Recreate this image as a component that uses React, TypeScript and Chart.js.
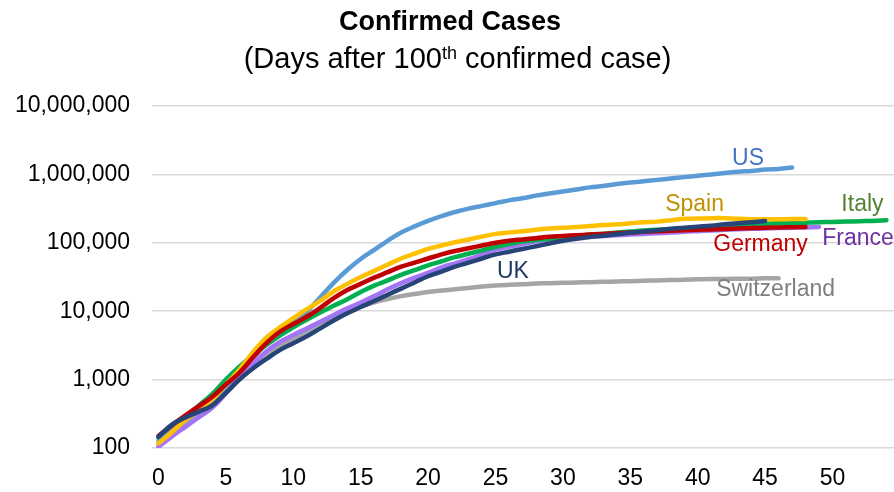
import React, { useEffect, useRef } from 'react';
import { Chart, registerables } from 'chart.js';

Chart.register(...registerables);

// ---- data (days after 100th confirmed case) ----
const days = [
  0, 1, 2, 3, 4, 5, 6, 7, 8, 9, 10, 11, 12, 13, 14, 15, 16, 17, 18, 19, 20, 21, 22, 23, 24, 25, 26, 27,
  28, 29, 30, 31, 32, 33, 34, 35, 36, 37, 38, 39, 40, 41, 42, 43, 44, 45, 46, 47, 48, 49, 50, 51, 52, 53, 54,
];

const usCases = [
  125, 190, 270, 370, 500, 800, 1300, 2100, 3400, 5000, 7100, 9800, 16000, 26000, 40000, 58000, 79000,
  107000, 141000, 174000, 209000, 245000, 282000, 316000, 347000, 380000, 417000, 447000, 490000, 525000,
  562000, 603000, 646000, 676000, 724000, 759000, 794000, 832000, 871000, 912000, 955000, 1000000, 1047000,
  1096000, 1122000, 1175000, 1202000, 1259000,
];

const spainCases = [
  117, 170, 260, 370, 520, 850, 1400, 2500, 4100, 5800, 7900, 10700, 14100, 19500, 25100, 31600, 38900,
  47900, 58900, 69200, 81300, 91200, 102000, 112000, 123000, 135000, 141000, 148000, 155000, 162000, 166000,
  170000, 176000, 182000, 186000, 193000, 200000, 204000, 214000, 224000, 226000, 229000, 229000, 224000,
  221000, 221000, 221000, 222000, 222000,
];

const italyCases = [
  138, 200, 290, 420, 620, 1000, 1550, 2250, 3200, 4400, 5800, 7500, 9600, 12000, 15000, 19100, 23700,
  28200, 33900, 39800, 46800, 53700, 61700, 69200, 77600, 87100, 96000, 104000, 110000, 115000, 120000,
  126000, 132000, 136000, 141000, 146000, 151000, 155000, 158000, 162000, 166000, 170000, 174000, 178000,
  183000, 189000, 193000, 195000, 197000, 200000, 202000, 204000, 207000, 209000, 214000,
];

const germanyCases = [
  150, 215, 300, 410, 560, 850, 1260, 2100, 3400, 5000, 6500, 8300, 11200, 15500, 20400, 25100, 30900,
  37200, 44700, 51300, 58900, 67600, 75900, 83200, 91200, 100000, 107000, 112000, 117000, 123000, 126000,
  129000, 132000, 135000, 138000, 141000, 145000, 148000, 150000, 152000, 155000, 157000, 159000, 162000,
  164000, 166000, 168000, 169000, 170000,
];

const franceCases = [
  104, 148, 204, 282, 390, 630, 1080, 1700, 2570, 3550, 4500, 5600, 7000, 8800, 11000, 13400, 16600,
  20900, 25700, 30900, 36300, 43700, 50100, 57500, 67600, 79400, 87100, 95500, 105000, 112000, 117000,
  120000, 123000, 126000, 129000, 132000, 135000, 138000, 141000, 145000, 148000, 151000, 155000, 158000,
  160000, 162000, 164000, 166000, 168000, 170000,
];

const ukCases = [
  146, 220, 280, 340, 420, 640, 1000, 1450, 2000, 2700, 3400, 4300, 5600, 7300, 9300, 11500, 14100, 17400,
  21400, 26300, 32400, 38000, 44700, 51300, 58900, 67600, 74100, 81300, 89100, 97700, 107000, 115000,
  122000, 127000, 133000, 140000, 146000, 153000, 160000, 166000, 172000, 178000, 186000, 193000, 200000,
  209000,
];

const switzerlandCases = [
  112, 158, 224, 316, 430, 640, 1000, 1480, 2140, 3000, 3980, 5150, 6610, 8320, 10000, 11700, 13500, 15100,
  16600, 17800, 19100, 20000, 20900, 21900, 22900, 23700, 24300, 24800, 25400, 25700, 26000, 26300, 26600,
  26900, 27200, 27500, 27900, 28200, 28500, 28800, 29200, 29500, 29500, 29900, 29900, 30200, 30200,
];

const xTickValues = [0, 5, 10, 15, 20, 25, 30, 35, 40, 45, 50];
const yTickValues = [100, 1000, 10000, 100000, 1000000, 10000000];

const titleText = 'Confirmed Cases';
const subtitleBefore = '(Days after 100';
const subtitleSup = 'th';
const subtitleAfter = ' confirmed case)';

// ---- series styling (first is drawn on top) ----
const series = [
  { name: 'UK', data: ukCases, line: '#264478', text: '#1F3864', at: 26, dx: 4, dy: 26 },
  { name: 'Germany', data: germanyCases, line: '#C00000', text: '#C00000', at: -1, dx: -45, dy: 24 },
  { name: 'Spain', data: spainCases, line: '#FFC000', text: '#BF9000', at: -1, dx: -111, dy: -8 },
  { name: 'US', data: usCases, line: '#5B9BD5', text: '#4472C4', at: -1, dx: -44, dy: -3 },
  { name: 'Italy', data: italyCases, line: '#00B050', text: '#548235', at: -1, dx: -24, dy: -9 },
  { name: 'France', data: franceCases, line: '#A374F5', text: '#7030A0', at: -1, dx: 39, dy: 18 },
  { name: 'Switzerland', data: switzerlandCases, line: '#A5A5A5', text: '#7F7F7F', at: -1, dx: -3, dy: 18 },
];

const FONT = '"Liberation Sans", Arial, Helvetica, sans-serif';

const labelPlugin = {
  id: 'seriesLabels',
  afterDatasetsDraw(chart: any) {
    const ctx = chart.ctx as CanvasRenderingContext2D;
    const xs = chart.scales.x;
    const ys = chart.scales.y;
    ctx.save();
    ctx.font = `23px ${FONT}`;
    ctx.textAlign = 'center';
    ctx.textBaseline = 'alphabetic';
    series.forEach((s) => {
      const idx = s.at < 0 ? s.data.length - 1 : s.at;
      const px = xs.getPixelForValue(days[idx]);
      const py = ys.getPixelForValue(s.data[idx]);
      ctx.fillStyle = s.text;
      ctx.fillText(s.name, px + s.dx, py + s.dy);
    });
    ctx.restore();
  },
  afterDraw(chart: any) {
    const ctx = chart.ctx as CanvasRenderingContext2D;
    ctx.save();
    ctx.fillStyle = '#000';
    ctx.textBaseline = 'alphabetic';
    ctx.textAlign = 'center';
    ctx.font = `bold 27px ${FONT}`;
    ctx.fillText(titleText, 450, 30);

    ctx.textAlign = 'left';
    const mainFont = `29px ${FONT}`;
    const supFont = `18px ${FONT}`;
    ctx.font = mainFont;
    const w1 = ctx.measureText(subtitleBefore).width;
    const w3 = ctx.measureText(subtitleAfter).width;
    ctx.font = supFont;
    const w2 = ctx.measureText(subtitleSup).width;
    const total = w1 + w2 + w3;
    let x = 457.5 - total / 2;
    ctx.font = mainFont;
    ctx.fillText(subtitleBefore, x, 68);
    x += w1;
    ctx.font = supFont;
    ctx.fillText(subtitleSup, x, 59);
    x += w2;
    ctx.font = mainFont;
    ctx.fillText(subtitleAfter, x, 68);
    ctx.restore();
  },
};

export default function App() {
  const canvasRef = useRef<HTMLCanvasElement | null>(null);

  useEffect(() => {
    if (!canvasRef.current) return;
    const chart = new Chart(canvasRef.current, {
      type: 'line',
      data: {
        datasets: series.map((s) => ({
          label: s.name,
          data: s.data.map((v, i) => ({ x: days[i], y: v })),
          borderColor: s.line,
          backgroundColor: s.line,
          borderWidth: 4.5,
          borderCapStyle: 'round' as const,
          borderJoinStyle: 'round' as const,
          pointRadius: 0,
          pointHoverRadius: 0,
          tension: 0.4,
          fill: false,
        })),
      },
      options: {
        animation: false,
        responsive: false,
        devicePixelRatio: 1,
        layout: { padding: { top: 106, left: 0, right: 0, bottom: 0 } },
        plugins: {
          legend: { display: false },
          title: { display: false },
          tooltip: { enabled: false },
        },
        scales: {
          x: {
            type: 'linear',
            min: -0.48,
            max: 54.56,
            afterBuildTicks: (axis: any) => {
              axis.ticks = xTickValues.map((v) => ({ value: v }));
            },
            afterFit: (axis: any) => {
              axis.height = 44;
            },
            grid: { display: false, drawTicks: false },
            border: { display: false },
            ticks: {
              autoSkip: false,
              maxRotation: 0,
              padding: 17,
              color: '#000',
              font: { family: FONT, size: 23 },
              callback: (v: any) => String(v),
            },
          },
          y: {
            type: 'logarithmic',
            min: 100,
            max: 10000000,
            afterBuildTicks: (axis: any) => {
              axis.ticks = yTickValues.map((v) => ({ value: v }));
            },
            afterFit: (axis: any) => {
              axis.width = 152;
            },
            grid: { color: '#D9D9D9', lineWidth: 1.5, drawTicks: false },
            border: { display: false },
            ticks: {
              autoSkip: false,
              padding: 22,
              color: '#000',
              font: { family: FONT, size: 23 },
              callback: (v: any) => Number(v).toLocaleString('en-US'),
            },
          },
        },
      },
      plugins: [labelPlugin],
    });
    return () => chart.destroy();
  }, []);

  return (
    <div style={{ position: 'absolute', left: 0, top: 0, width: 894, height: 492, background: '#fff' }}>
      <canvas ref={canvasRef} width={894} height={492} style={{ display: 'block' }} />
    </div>
  );
}
